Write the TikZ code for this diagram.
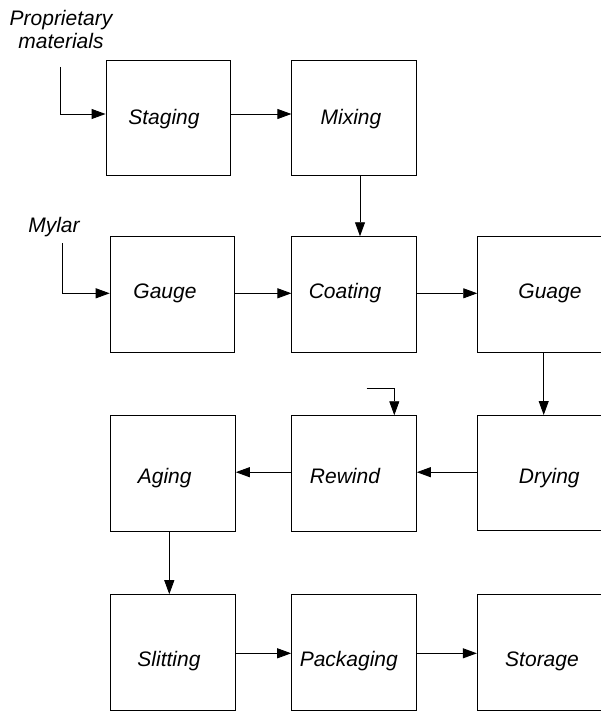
\documentclass[tikz,border=0pt]{standalone}
\usepackage{fontspec}
\setmainfont{Liberation Sans}
\usetikzlibrary{arrows.meta}
\begin{document}
\begin{tikzpicture}[x=1pt,y=-1pt,
  procbox/.style={draw=black,line width=0.9pt,minimum width=124.7pt,minimum height=115.3pt,inner sep=0pt},
  edgebox/.style={procbox,minimum width=150pt},
  lbl/.style={anchor=base,inner sep=0pt,font=\fontsize{21}{25}\selectfont\itshape},
  arr/.style={line width=0.9pt,-{Triangle[length=14pt,width=10pt]}},
  ln/.style={line width=0.9pt}]
\useasboundingbox (0,0) rectangle (600,711);
% boxes
\node[procbox] (Staging)   at (168.35,117.75) {};
\node[procbox] (Mixing)    at (354.2,117.85) {};
\node[procbox] (Gauge)     at (172.5,294.35) {};
\node[procbox] (Coating)   at (354.2,294.35) {};
\node[edgebox] (Guage)     at (552.7,294.35) {};
\node[procbox] (Aging)     at (173,473.35) {};
\node[procbox] (Rewind)    at (354,473.35) {};
\node[edgebox] (Drying)    at (552.3,473.1) {};
\node[procbox] (Slitting)  at (173,652.3) {};
\node[procbox] (Packaging) at (354,652.3) {};
\node[edgebox] (Storage)   at (552.3,652.3) {};
% texts
\node[lbl] (tStaging)   at (164,124.5) {Staging};
\node[lbl] (tMixing)    at (351,125) {Mixing};
\node[lbl] (tGauge)     at (165,298) {Gauge};
\node[lbl] (tCoating)   at (345,298) {Coating};
\node[lbl] (tGuage)     at (550,298) {Guage};
\node[lbl] (tAging)     at (164.7,483) {Aging};
\node[lbl] (tRewind)    at (345,483) {Rewind};
\node[lbl] (tDrying)    at (549.3,483) {Drying};
\node[lbl] (tSlitting)  at (169,666) {Slitting};
\node[lbl] (tPackaging) at (348.8,666) {Packaging};
\node[lbl] (tStorage)   at (542,666) {Storage};
\node[lbl] (tProp)      at (61,26) {Proprietary};
\node[lbl] (tMat)       at (61,48.3) {materials};
\node[lbl] (tMylar)     at (54,232.3) {Mylar};
% connector anchors
\coordinate (pmTop) at (60.3,67);
\coordinate (pmBend) at (60.3,114);
\coordinate (myTop) at (62.7,243);
\coordinate (myBend) at (62.7,293.3);
\coordinate (rwStart) at (366.7,388.7);
\coordinate (rwBend) at (394.3,388.7);
\coordinate (r1) at (0,114);
\coordinate (r2) at (0,293.3);
\coordinate (r3) at (0,472.2);
\coordinate (r4) at (0,653.3);
\coordinate (c1) at (360,0);
\coordinate (c2) at (543.7,0);
\coordinate (c3) at (169.3,0);
% connectors
\draw[arr] (pmTop) -- (pmBend) -- (pmBend -| Staging.west);
\draw[arr] (Staging.east |- r1) -- (Mixing.west |- r1);
\draw[arr] (Mixing.south -| c1) -- (Coating.north -| c1);
\draw[arr] (myTop) -- (myBend) -- (myBend -| Gauge.west);
\draw[arr] (Gauge.east |- r2) -- (Coating.west |- r2);
\draw[arr] (Coating.east |- r2) -- (Guage.west |- r2);
\draw[arr] (Guage.south -| c2) -- (Drying.north -| c2);
\draw[arr] (Drying.west |- r3) -- (Rewind.east |- r3);
\draw[arr] (Rewind.west |- r3) -- (Aging.east |- r3);
\draw[arr] (rwStart) -- (rwBend) -- (rwBend |- Rewind.north);
\draw[arr] (Aging.south -| c3) -- (Slitting.north -| c3);
\draw[arr] (Slitting.east |- r4) -- (Packaging.west |- r4);
\draw[arr] (Packaging.east |- r4) -- (Storage.west |- r4);
\end{tikzpicture}
\end{document}
